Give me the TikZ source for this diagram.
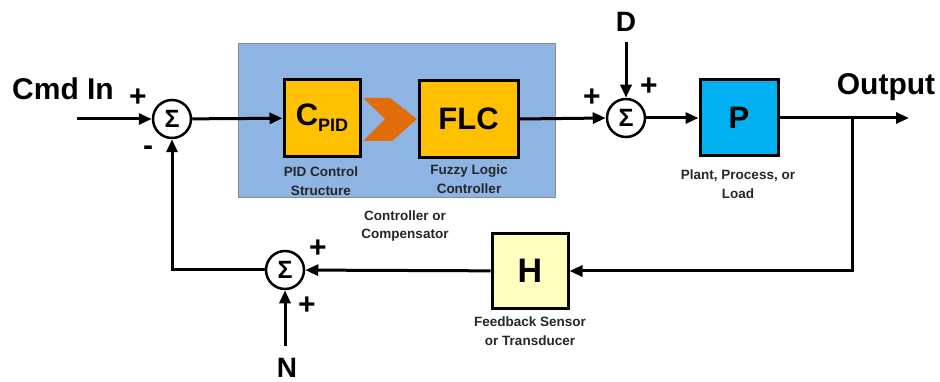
\documentclass[tikz,border=0pt]{standalone}
\usepackage{fontspec}
\setmainfont{Liberation Sans}
\usetikzlibrary{arrows.meta}
\definecolor{ctrlblue}{HTML}{8EB4E3}
\definecolor{boxgold}{HTML}{FFC000}
\definecolor{chev}{HTML}{E36C0A}
\definecolor{plantblue}{HTML}{00B0F0}
\definecolor{sensyel}{HTML}{FFFFC0}
\tikzset{
  conn/.style={line width=3pt, -{Triangle[length=13pt,width=11pt]}},
  sumnode/.style={circle, draw, line width=2.5pt, minimum size=38pt, inner sep=0pt, font=\bfseries\fontsize{25}{25}\selectfont},
  blockbox/.style={draw, line width=3pt, inner sep=0pt, font=\bfseries\fontsize{31}{31}\selectfont},
  biglabel/.style={font=\bfseries\fontsize{30}{30}\selectfont, inner sep=0pt},
  signlabel/.style={font=\bfseries\fontsize{30}{30}\selectfont, inner sep=0pt},
  caption/.style={font=\bfseries\fontsize{13.5}{18.5}\selectfont, align=center, inner sep=0pt, text=black!85}
}
\begin{document}
\begin{tikzpicture}[x=1pt,y=-1pt]
\useasboundingbox (0,0) rectangle (940,382);
% controller background
\node[fill=ctrlblue, draw=black!45, line width=0.8pt, minimum width=317pt, minimum height=154pt, inner sep=0pt] (ctrl) at (396.5,120) {};
% blocks
\node[blockbox, fill=boxgold, minimum width=76pt, minimum height=77pt] (cpid) at (322,118) {C\raisebox{-0.35ex}{\fontsize{18}{18}\selectfont PID}};
\node[blockbox, fill=boxgold, minimum width=99pt, minimum height=77pt] (flc) at (468.5,119) {FLC};
\fill[chev] (363,98) -- (390,98) -- (417,119) -- (392,141) -- (363,141) -- (385,119) -- cycle;
\node[blockbox, fill=plantblue, minimum width=78pt, minimum height=76pt] (p) at (739,118) {P};
\node[blockbox, fill=sensyel, minimum width=76pt, minimum height=75pt, font=\bfseries\fontsize{34}{34}\selectfont] (h) at (530,271) {H};
% summing junctions
\node[sumnode] (s1) at (172,119) {Σ};
\node[sumnode] (s2) at (626,118) {Σ};
\node[sumnode] (s3) at (285,270) {Σ};
% labels
\node[biglabel] (cmd) at (63,89) {Cmd In};
\node[biglabel] (outl) at (886,87) {Output};
\node[biglabel, font=\bfseries\fontsize{28}{28}\selectfont] (D) at (626,22) {D};
\node[biglabel, font=\bfseries\fontsize{28}{28}\selectfont] (N) at (287,368) {N};
\node[signlabel] (p1) at (138,98) {+};
\node[signlabel] (m1) at (148,151) {-};
\node[signlabel] (p2) at (592,98) {+};
\node[signlabel] (p3) at (649,87) {+};
\node[signlabel] (p4) at (318,249) {+};
\node[signlabel] (p5) at (307,306) {+};
\node[caption] (capcpid) at (321,181) {PID Control\\Structure};
\node[caption] (capflc) at (469,179) {Fuzzy Logic\\Controller};
\node[caption] (capctrl) at (405,226) {Controller or\\Compensator};
\node[caption] (capp) at (738,184) {Plant, Process, or\\Load};
\node[caption] (caph) at (530,331) {Feedback Sensor\\or Transducer};
% connectors
\coordinate (inpt) at (77,119);
\coordinate (outpt) at (909,118);
\coordinate (br) at (852,118);
\coordinate (dtop) at (626,42);
\coordinate (ntop) at (285,346);
\draw[conn] (inpt) -- (s1);
\draw[conn] (s1) -- (cpid);
\draw[conn] (flc.east) -- (s2.west);
\draw[conn] (s2) -- (p);
\draw[conn] (p.east) -- (outpt);
\draw[conn] (br) |- (h.east);
\draw[conn] (h) -- (s3);
\draw[conn] (s3.west) -| (s1.south);
\draw[conn] (dtop) -- (s2);
\draw[conn] (ntop) -- (s3);
\end{tikzpicture}
\end{document}
